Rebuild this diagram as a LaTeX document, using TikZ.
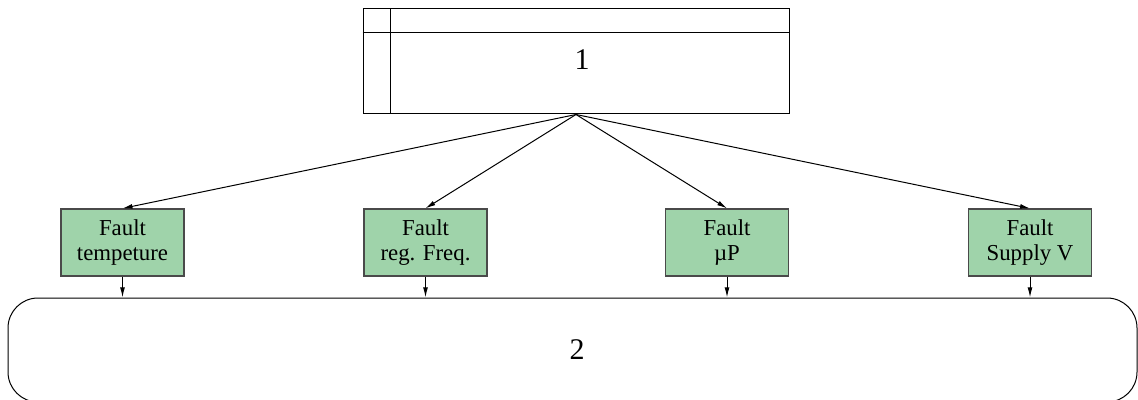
\documentclass[tikz,border=0pt]{standalone}
\usepackage{fontspec}
\setmainfont{Liberation Serif}
\usepackage{tikz}
\usetikzlibrary{arrows.meta}
\definecolor{faultgreen}{HTML}{9FD3AA}
\definecolor{edgegrey}{HTML}{4A4A4A}

\begin{document}
\begin{tikzpicture}[x=0.5pt,y=-0.5pt,
      fbox/.style={draw=edgegrey,line width=0.6pt,fill=faultgreen,
                   minimum width=61.5pt,minimum height=33.5pt,inner sep=0pt,
                   align=center,font=\fontsize{11.4}{12.5}\selectfont},
      topbox/.style={draw,line width=0.5pt,minimum width=213pt,
                     minimum height=52.5pt,inner sep=0pt},
      busbox/.style={draw,line width=0.5pt,rounded corners=15pt,
                     minimum width=564.5pt,minimum height=52pt,inner sep=0pt},
      big/.style={font=\fontsize{15}{16}\selectfont},
      arr/.style={-{Latex[length=5pt,width=2.4pt]},line width=0.5pt}]
    \clip (0,0) rectangle (1138,400);
    \node[topbox] (ctrl) at (576,61.5) {};
    \draw[line width=0.5pt] ([xshift=14pt]ctrl.north west) -- ([xshift=14pt]ctrl.south west);
    \draw[line width=0.5pt] ([yshift=-12pt]ctrl.north west) -- ([yshift=-12pt]ctrl.north east);
    \node[big] (one) at (582,60) {1};
    \node[fbox] (f1) at (122.5,242.5) {Fault\\tempeture};
    \node[fbox] (f2) at (425.5,242.5) {Fault\\reg. Freq.};
    \node[fbox] (f3) at (727,242.5) {Fault\\µP};
    \node[fbox] (f4) at (1030,242.5) {Fault\\Supply V};
    \node[busbox] (bus) at (572.5,350) {};
    \node[big] (two) at (577,350) {2};
    % from block 1 down to the faults
    \foreach \f in {f1,f2,f3,f4}
      \draw[arr] (ctrl.south) -- (\f.north);
    % faults into block 2
    \foreach \f in {f1,f2,f3,f4}
      \draw[arr] (\f.south) -- (\f.south |- bus.north);
  \end{tikzpicture}
\end{document}
